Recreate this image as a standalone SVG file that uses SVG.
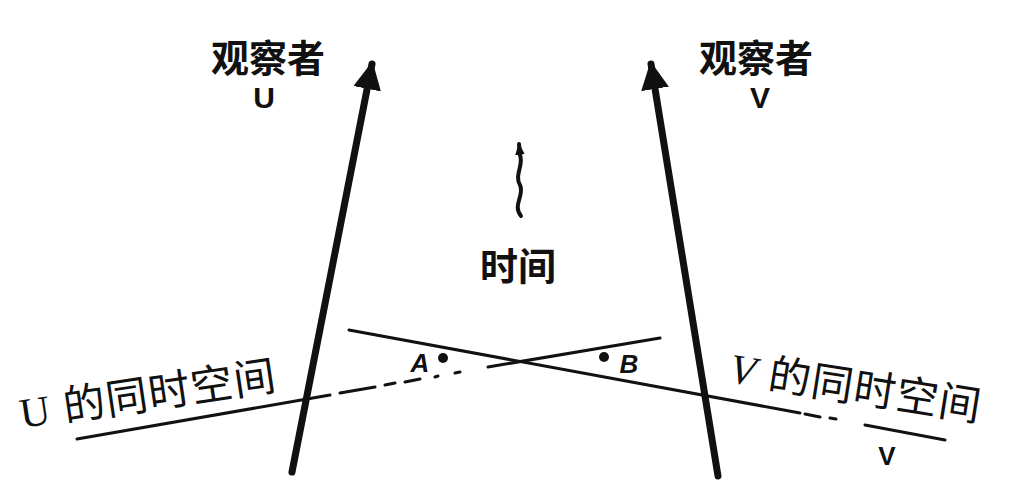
<svg xmlns="http://www.w3.org/2000/svg" width="1011" height="501" viewBox="0 0 1011 501">
<defs>
<style>
.lbl{font-family:"Liberation Sans","Noto Sans CJK SC",sans-serif;fill:#111}
.b{font-weight:bold}
.serif{font-family:"Liberation Serif",serif}
.ln{stroke:#111;fill:none;stroke-linecap:round}
</style>
<marker id="ah" viewBox="0 0 10 10" refX="9" refY="5" markerWidth="4" markerHeight="4" orient="auto" markerUnits="strokeWidth">
<path d="M0,0 L10,5 L0,10 z" fill="#111"/>
</marker>
<marker id="ahs" viewBox="0 0 10 10" refX="9" refY="5" markerWidth="3" markerHeight="3" orient="auto" markerUnits="strokeWidth">
<path d="M0,1 L10,5 L0,9 z" fill="#111"/>
</marker>
</defs>
<rect width="1011" height="501" fill="#fff"/>
<g id="connectors">
<line class="ln" x1="292" y1="472" x2="372" y2="64" stroke-width="7" marker-end="url(#ah)"/>
<line class="ln" x1="718" y1="476" x2="651" y2="64" stroke-width="7" marker-end="url(#ah)"/>
<path class="ln" d="M77,439 L330,395 M340,393 L375,387 M385,385 L395,383 M405,382 L420,379 M435,377 L438,376 M455,373 L460,372 M488,367 L660,338" stroke-width="3"/>
<path class="ln" d="M349,330 L800,413 M805,414 L820,417 M830,418 L836,419 M865,425 L945,440" stroke-width="3"/>
<path class="ln" d="M521,216 C512,205 525,195 520,185 C514,175 524,165 520,155 L519,144" stroke-width="4" marker-end="url(#ahs)"/>
</g>
<g id="observer-u">
<text class="lbl b" x="268" y="72" font-size="38" text-anchor="middle">观察者</text>
<text class="lbl b" x="264" y="108" font-size="30" text-anchor="middle">U</text>
</g>
<g id="observer-v">
<text class="lbl b" x="756" y="72" font-size="38" text-anchor="middle">观察者</text>
<text class="lbl b" x="760" y="108" font-size="30" text-anchor="middle">V</text>
</g>
<g id="time">
<text class="lbl b" x="518" y="280" font-size="38" text-anchor="middle">时间</text>
</g>
<g id="u-space">
<text class="lbl" x="0" y="0" font-size="42" letter-spacing="1" transform="translate(22,428) rotate(-8.5)"><tspan class="serif">U</tspan> 的同时空间</text>
</g>
<g id="v-space">
<text class="lbl" x="0" y="0" font-size="42" letter-spacing="1" transform="translate(728,382) rotate(9)"><tspan class="serif" font-style="italic">V</tspan> 的同时空间</text>
<text class="lbl b" x="887" y="465" font-size="26" text-anchor="middle">V</text>
</g>
<g id="point-a">
<circle cx="443" cy="358" r="5" fill="#111"/>
<text class="lbl b" x="420" y="372" font-size="26" font-style="italic" text-anchor="middle">A</text>
</g>
<g id="point-b">
<circle cx="604" cy="357" r="5" fill="#111"/>
<text class="lbl b" x="629" y="373" font-size="26" font-style="italic" text-anchor="middle">B</text>
</g>
</svg>
